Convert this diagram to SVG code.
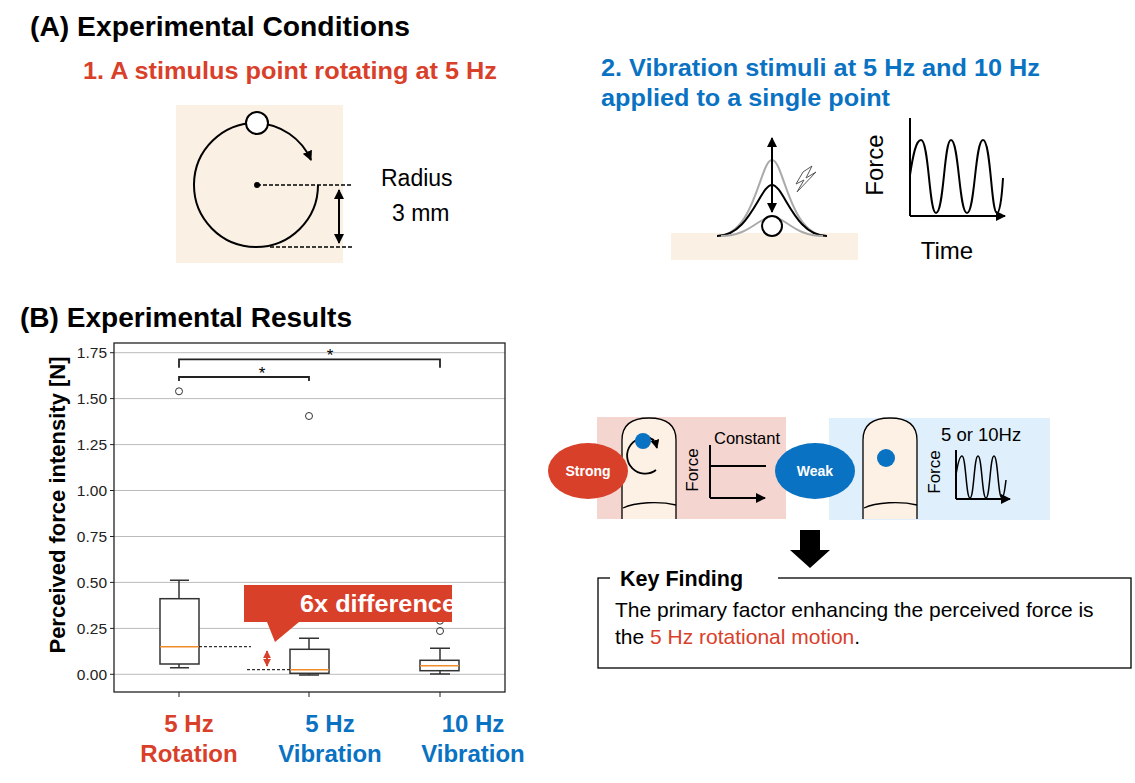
<svg xmlns="http://www.w3.org/2000/svg" width="1135" height="783" viewBox="0 0 1135 783">
<style>
text{font-family:"Liberation Sans",Arial,sans-serif}
.b{font-weight:bold}
.ln{fill:none;stroke:#000;stroke-width:2}
.bx{fill:#fff;stroke:#333;stroke-width:1.5}
.med{stroke:#f28c28;stroke-width:1.5}
.grid{stroke:#bbb;stroke-width:1}
.tick{font-size:15.5px;fill:#222;text-anchor:end}
.red{fill:#d9402a}.blue{fill:#0a72c2}
</style>
<defs>
<marker id="ah" viewBox="0 0 10 10" refX="9" refY="5" markerWidth="5" markerHeight="5" orient="auto-start-reverse"><path d="M0,0L10,5L0,10z" fill="#000"/></marker>
<marker id="ahr" viewBox="0 0 10 10" refX="9" refY="5" markerWidth="4" markerHeight="4" orient="auto-start-reverse"><path d="M0,0L10,5L0,10z" fill="#d9402a"/></marker>
</defs>
<rect width="1135" height="783" fill="#fff"/>
<text x="30" y="36" class="b" font-size="27" textLength="380" lengthAdjust="spacingAndGlyphs">(A) Experimental Conditions</text>
<text x="83" y="79" class="b red" font-size="24" textLength="414" lengthAdjust="spacingAndGlyphs">1. A stimulus point rotating at 5 Hz</text>
<text x="601" y="76" class="b blue" font-size="24" textLength="439" lengthAdjust="spacingAndGlyphs">2. Vibration stimuli at 5 Hz and 10 Hz</text>
<text x="601" y="106" class="b blue" font-size="24" textLength="289" lengthAdjust="spacingAndGlyphs">applied to a single point</text>
<g id="rotation">
<rect x="176" y="105" width="167" height="158" fill="#faf0e4"/>
<path class="ln" d="M318,185 A62,62 0 1 1 257,123"/>
<path class="ln" d="M257,123 A62,62 0 0 1 311,160" marker-end="url(#ah)"/>
<circle cx="257" cy="123" r="11" fill="#fff" stroke="#000" stroke-width="2"/>
<circle cx="257" cy="185" r="3"/>
<path d="M257,185H353M270,247H353" stroke="#000" stroke-width="1.5" stroke-dasharray="4,2"/>
<path d="M339,190V243" class="ln" stroke-width="1.5" marker-start="url(#ah)" marker-end="url(#ah)"/>
<text x="381" y="186" font-size="23">Radius</text>
<text x="392" y="221" font-size="23">3 mm</text>
</g>
<g id="vibration">
<rect x="671" y="233" width="187" height="27" fill="#faf0e4"/>
<path d="M717,236C755,236 760,160 772,160C784,160 789,236 827,236" fill="none" stroke="#aaa" stroke-width="2"/>
<path d="M717,236C750,236 760,185 772,185C784,185 794,236 827,236" class="ln"/>
<path d="M721,236C750,236 758,217 772,217C786,217 794,236 823,236" fill="none" stroke="#aaa" stroke-width="2"/>
<circle cx="772" cy="226" r="10" fill="#fff" stroke="#000" stroke-width="2"/>
<path d="M772,212V138" class="ln" stroke-width="1.5" marker-start="url(#ah)" marker-end="url(#ah)"/>
<path d="M803,172L812,166L806,178L816,172L797,192L804,180L796,184Z" fill="#fff" stroke="#555" stroke-width="1"/>
<path d="M910,216V118M910,216H1005" class="ln" stroke-width="1.8" marker-end="url(#ah)"/>
<path d="M910,175C913,155 916,140 921,140C929,140 929,213 936,213C944,213 944,140 951,140C959,140 959,213 967,213C975,213 975,140 983,140C991,140 991,213 997,213C1000,213 1002,195 1003,178" class="ln"/>
<text transform="translate(883,165) rotate(-90)" font-size="24" text-anchor="middle">Force</text>
<text x="947" y="259" font-size="24" text-anchor="middle">Time</text>
</g>
<text x="20" y="327" class="b" font-size="27" textLength="332" lengthAdjust="spacingAndGlyphs">(B) Experimental Results</text>
<g id="chart">
<g class="grid">
<line x1="114" x2="505" y1="352.7" y2="352.7"/><line x1="114" x2="505" y1="398.6" y2="398.6"/><line x1="114" x2="505" y1="444.6" y2="444.6"/><line x1="114" x2="505" y1="490.5" y2="490.5"/><line x1="114" x2="505" y1="536.5" y2="536.5"/><line x1="114" x2="505" y1="582.4" y2="582.4"/><line x1="114" x2="505" y1="628.4" y2="628.4"/><line x1="114" x2="505" y1="674.3" y2="674.3"/>
</g>
<rect x="114" y="343" width="391" height="349" fill="none" stroke="#222" stroke-width="1.3"/>
<g stroke="#222"><path d="M110,352.7h4M110,398.6h4M110,444.6h4M110,490.5h4M110,536.5h4M110,582.4h4M110,628.4h4M110,674.3h4M179,692v5M309,692v5M440,692v5"/></g>
<text class="tick" x="107" y="358">1.75</text><text class="tick" x="107" y="404">1.50</text><text class="tick" x="107" y="450">1.25</text><text class="tick" x="107" y="496">1.00</text><text class="tick" x="107" y="542">0.75</text><text class="tick" x="107" y="588">0.50</text><text class="tick" x="107" y="634">0.25</text><text class="tick" x="107" y="680">0.00</text>
<text transform="translate(65,505) rotate(-90)" class="b" font-size="22" text-anchor="middle">Perceived force intensity [N]</text>
<g stroke="#333" stroke-width="1.5" fill="none">
<path d="M179,598.7V580.3M170,580.3H189M179,664V667.7M170,667.7H189"/>
<path d="M309,649.3V638.3M299,638.3H319M309,673.3V675M299,675H319"/>
<path d="M440,660.3V648.3M430,648.3H450M440,670.7V674M430,674H450"/>
</g>
<rect class="bx" x="160" y="598.7" width="39" height="65.3"/>
<rect class="bx" x="290" y="649.3" width="39" height="24"/>
<rect class="bx" x="420" y="660.3" width="39" height="10.4"/>
<path class="med" d="M160,646.7H199M290,669.7H329M420,665.7H459"/>
<g fill="none" stroke="#333" stroke-width="1"><circle cx="179" cy="391.3" r="3.5"/><circle cx="309" cy="416" r="3.5"/><circle cx="440" cy="631" r="3.5"/><circle cx="440" cy="620.7" r="3.5"/></g>
<path d="M179,367.7V359.3H440V367.7M179,381V377H309V381" fill="none" stroke="#222" stroke-width="1.8"/>
<text x="330" y="361" font-size="17" text-anchor="middle">*</text>
<text x="262" y="379" font-size="17" text-anchor="middle">*</text>
<path d="M199,646.7H251M247,669.7H290" stroke="#000" stroke-width="1" stroke-dasharray="3,2"/>
<path d="M267,651V666" stroke="#d9402a" stroke-width="2" marker-start="url(#ahr)" marker-end="url(#ahr)"/>
<g id="callout"><path d="M244,585H452V622H299L275,642L267,622H244Z" fill="#d9402a"/>
<text x="300" y="612" class="b" font-size="24" fill="#fff" textLength="156" lengthAdjust="spacingAndGlyphs">6x difference</text></g>
<g class="b" font-size="24" text-anchor="middle">
<text x="189" y="732" class="red">5 Hz</text><text x="189" y="762" class="red">Rotation</text>
<text x="330" y="732" class="blue">5 Hz</text><text x="330" y="762" class="blue">Vibration</text>
<text x="473" y="732" class="blue">10 Hz</text><text x="473" y="762" class="blue">Vibration</text>
</g>
</g>
<g id="strong-panel">
<rect x="597" y="417" width="189" height="102" fill="#f5d5d0"/>
<path d="M622,519V440C622,425 632,418 649,418C666,418 676,425 676,440V519" fill="#fdf0e4" stroke="#000" stroke-width="1.3"/>
<path d="M623,508C635,502 660,501 676,505" fill="none" stroke="#000" stroke-width="1.3"/>
<path d="M656,470A18,18 0 1 1 654,440" fill="none" stroke="#000" stroke-width="1.8"/>
<path d="M643,435A18,18 0 0 1 657,448" fill="none" stroke="#000" stroke-width="1.8" marker-end="url(#ah)"/>
<circle cx="643" cy="441" r="8" fill="#0a72c2"/>
<path d="M710,498V445M710,498H765" class="ln" stroke-width="1.5" marker-end="url(#ah)"/>
<path d="M710,466H766" class="ln" stroke-width="1.5"/>
<text x="714" y="444" font-size="16.5">Constant</text>
<text transform="translate(698,470) rotate(-90)" font-size="17" text-anchor="middle">Force</text>
<ellipse cx="588" cy="471" rx="40" ry="28" fill="#d9402a"/>
<text x="588" y="476" class="b" font-size="14" fill="#fff" text-anchor="middle">Strong</text>
</g>
<g id="weak-panel">
<rect x="829" y="418" width="221" height="102" fill="#dff0fc"/>
<path d="M863,519V440C863,425 873,418 890,418C907,418 917,425 917,440V519" fill="#fdf0e4" stroke="#000" stroke-width="1.3"/>
<path d="M864,508C876,502 901,501 917,505" fill="none" stroke="#000" stroke-width="1.3"/>
<circle cx="886" cy="458" r="9" fill="#0a72c2"/>
<path d="M956,499V450M956,499H1010" class="ln" stroke-width="1.5" marker-end="url(#ah)"/>
<path d="M956,475C958,462 960,456 962,456C966,456 966,498 970,498C974,498 974,456 978,456C982,456 982,498 986,498C990,498 990,456 994,456C998,456 998,498 1002,498C1004,498 1005,488 1006,480" fill="none" stroke="#000" stroke-width="1.5"/>
<text x="941" y="441" font-size="18.5">5 or 10Hz</text>
<text transform="translate(940,472) rotate(-90)" font-size="17" text-anchor="middle">Force</text>
<ellipse cx="815" cy="471" rx="40" ry="28" fill="#0a72c2"/>
<text x="815" y="476" class="b" font-size="14" fill="#fff" text-anchor="middle">Weak</text>
</g>
<g id="connectors"><path d="M800,530H820V550H830L810,568L790,550H800Z" fill="#000"/></g>
<g id="key-finding">
<rect x="598" y="578" width="533" height="90" fill="#fff" stroke="#000" stroke-width="1.3"/>
<rect x="610" y="568" width="168" height="20" fill="#fff"/>
<text x="620" y="586" class="b" font-size="21.5">Key Finding</text>
<text x="615" y="617" font-size="21">The primary factor enhancing the perceived force is</text>
<text x="615" y="644" font-size="21">the <tspan fill="#d9402a">5 Hz rotational motion</tspan>.</text>
</g>
</svg>
